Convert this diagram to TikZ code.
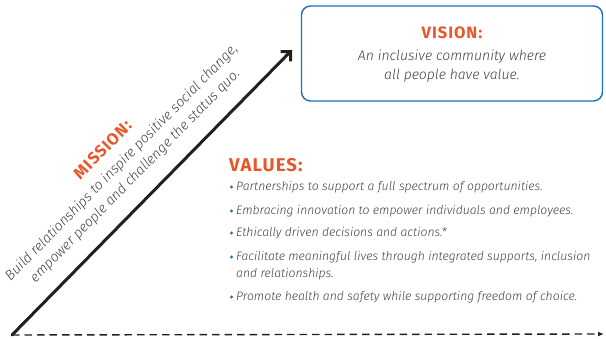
\documentclass[tikz,border=0pt]{standalone}
\usepackage{fontspec}
\setmainfont{Fira Sans}[ItalicFont={* Light Italic}]
\newfontfamily\headfont[LetterSpace=6]{Fira Sans}
\usetikzlibrary{arrows.meta}
\definecolor{headorange}{HTML}{E8562A}
\definecolor{boxblue}{HTML}{1F6EB5}
\definecolor{textgray}{HTML}{404040}
\definecolor{arrowgray}{HTML}{231F20}
\tikzset{
  heading/.style={font=\headfont\bfseries\fontsize{16.5}{20}\selectfont, text=headorange, inner sep=0pt},
  body/.style={font=\itshape\fontsize{12.2}{17}\selectfont, text=textgray, inner sep=0pt},
  bigbody/.style={body, font=\itshape\fontsize{14}{19}\selectfont},
  bullet/.style={fill=boxblue}
}
\begin{document}
\begin{tikzpicture}[x=1pt, y=1pt, line join=round, line cap=round]
\useasboundingbox (0,0) rectangle (606,339);
\path (12,4) coordinate (O) (292,289) coordinate (T) (604,5) coordinate (E);
% axes
\draw[line width=3pt, arrowgray, -{Straight Barb[length=7pt, width=14pt, line width=3pt]}] (O)--(T);
\draw[line width=1.4pt, arrowgray, line cap=butt, dash pattern=on 7.5pt off 5pt, -{Latex[length=6pt, width=5pt]}] (O)--(E);
% vision
\node[draw=boxblue, line width=1.4pt, rounded corners=9pt, minimum width=301pt, minimum height=95pt] (vision) at (452,285.5) {};
\node[heading] (visionhead) at (452,306) {VISION:};
\node[bigbody, align=center] (visiontext) at (452,272.5) {An inclusive community where\\all people have value.};
% mission
\node[heading, rotate=45.5] (missionhead) at (102.5,189.5) {MISSION:};
\node[bigbody, rotate=45.5, align=center] (missiontext) at (128.5,169.5) {Build relationships to inspire positive social change,\\empower people and challenge the status quo.};
% values
\node[heading, anchor=west, font=\headfont\bfseries\fontsize{18.5}{22}\selectfont] (valueshead) at (229,174) {VALUES:};
\foreach \n/\by/\ty/\t in {1/187/187/{Partnerships to support a full spectrum of opportunities.},
                      2/211/211/{Embracing innovation to empower individuals and employees.},
                      3/233/233/{Ethically driven decisions and actions.*},
                      4/257/274/{Facilitate meaningful lives through integrated supports, inclusion\\and relationships.},
                      5/297/297/{Promote health and safety while supporting freedom of choice.}}{
  \fill[bullet] (231.5,{339-\by}) circle (1.7pt);
  \node[body, anchor=base west, align=left] (value\n) at (236,{335-\ty}) {\t};
}
\end{tikzpicture}
\end{document}
